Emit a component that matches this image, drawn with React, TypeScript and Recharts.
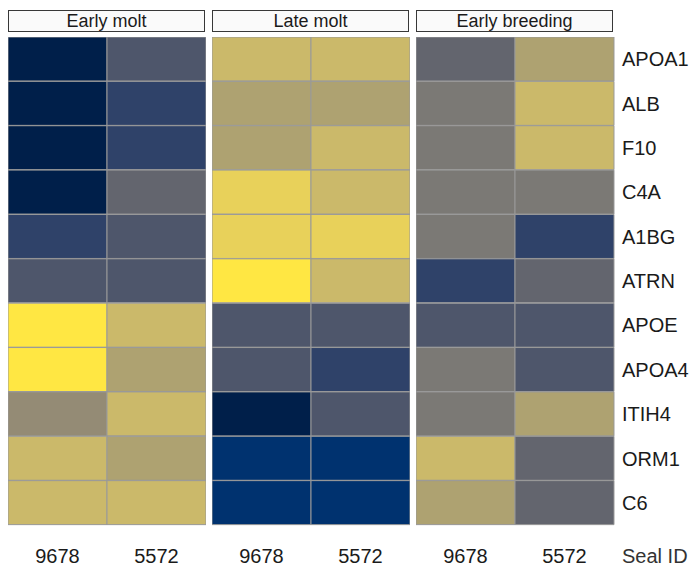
import React from 'react';
import { BarChart, Bar, Cell, XAxis, YAxis } from 'recharts';

const GENES = ['APOA1', 'ALB', 'F10', 'C4A', 'A1BG', 'ATRN', 'APOE', 'APOA4', 'ITIH4', 'ORM1', 'C6'];
const SEAL_IDS = ['9678', '5572'];
const STAGES = ['Early molt', 'Late molt', 'Early breeding'];

// scaled abundance (0 = low, 1 = high), one array per stage and seal
const earlyMolt9678 = [0.0, 0.0, 0.0, 0.0, 0.2, 0.3, 1.0, 1.0, 0.6, 0.8, 0.8];
const earlyMolt5572 = [0.3, 0.2, 0.2, 0.4, 0.3, 0.3, 0.8, 0.7, 0.8, 0.7, 0.8];
const lateMolt9678 = [0.8, 0.7, 0.7, 0.9, 0.9, 1.0, 0.3, 0.3, 0.0, 0.1, 0.1];
const lateMolt5572 = [0.8, 0.7, 0.8, 0.8, 0.9, 0.8, 0.3, 0.2, 0.3, 0.1, 0.1];
const earlyBreeding9678 = [0.4, 0.5, 0.5, 0.5, 0.5, 0.2, 0.3, 0.5, 0.5, 0.8, 0.7];
const earlyBreeding5572 = [0.7, 0.8, 0.8, 0.5, 0.2, 0.4, 0.3, 0.3, 0.7, 0.4, 0.4];

const STAGE_VALUES = [
  [earlyMolt9678, earlyMolt5572],
  [lateMolt9678, lateMolt5572],
  [earlyBreeding9678, earlyBreeding5572],
];

// cividis-like palette, evenly spaced over 0..1
const PALETTE = [
  '#001F4A', '#00326F', '#2F4269', '#4E566B', '#63656E', '#7B7975',
  '#948B75', '#AEA271', '#CBB96A', '#E8D15A', '#FFE743',
];

const hexToRgb = (h: string) => [1, 3, 5].map((i) => parseInt(h.slice(i, i + 2), 16));

const colorFor = (v: number) => {
  const t = Math.max(0, Math.min(1, v)) * (PALETTE.length - 1);
  const i = Math.min(Math.floor(t), PALETTE.length - 2);
  const f = t - i;
  const a = hexToRgb(PALETTE[i]);
  const b = hexToRgb(PALETTE[i + 1]);
  const c = a.map((x, k) => Math.round(x + (b[k] - x) * f));
  return `rgb(${c[0]},${c[1]},${c[2]})`;
};

const FONT = '"Liberation Sans", Arial, sans-serif';
const PANEL_LEFT = [8, 212, 416];
const PANEL_W = 198;
const LABEL_W = 77;

const Panel: React.FC<{ stage: number }> = ({ stage }) => {
  const [a, b] = STAGE_VALUES[stage];
  const rows = GENES.map((gene, i) => ({ gene, c0: 1, c1: 1, v0: a[i], v1: b[i] }));
  const last = stage === STAGES.length - 1;
  return (
    <div style={{ position: 'absolute', left: PANEL_LEFT[stage], top: 0 }}>
      <div
        style={{
          position: 'absolute', left: 0, top: 10, width: PANEL_W - 3, height: 20,
          border: '1.5px solid #383838', background: '#FAFAFA', fontFamily: FONT,
          fontSize: 18, color: '#1A1A1A', display: 'flex', alignItems: 'center',
          justifyContent: 'center', lineHeight: '20px',
        }}
      >
        {STAGES[stage]}
      </div>
      <div style={{ position: 'absolute', left: 0, top: 37 }}>
        <BarChart
          width={PANEL_W + (last ? LABEL_W : 0)}
          height={531}
          data={rows}
          layout="vertical"
          barCategoryGap={0}
          barGap={0}
          margin={{ top: 0, right: 0, bottom: 0, left: 0 }}
        >
          <XAxis
            type="number"
            domain={[0, 2]}
            ticks={[0.5, 1.5]}
            tickFormatter={(t: number) => SEAL_IDS[Math.floor(t)]}
            axisLine={false}
            tickLine={false}
            tickMargin={18}
            height={43}
            tick={{ fill: '#1A1A1A', fontSize: 20, fontFamily: FONT }}
          />
          <YAxis
            type="category"
            dataKey="gene"
            orientation="right"
            hide={!last}
            width={LABEL_W}
            axisLine={false}
            tickLine={false}
            tick={{ fill: '#1A1A1A', fontSize: 20, fontFamily: FONT, textAnchor: 'start' }}
          />
          <Bar dataKey="c0" stackId="s" isAnimationActive={false}>
            {rows.map((r) => (
              <Cell key={r.gene} fill={colorFor(r.v0)} stroke="#999999" strokeWidth={1} />
            ))}
          </Bar>
          <Bar dataKey="c1" stackId="s" isAnimationActive={false}>
            {rows.map((r) => (
              <Cell key={r.gene} fill={colorFor(r.v1)} stroke="#999999" strokeWidth={1} />
            ))}
          </Bar>
        </BarChart>
      </div>
    </div>
  );
};

export default function App() {
  return (
    <div style={{ position: 'absolute', left: 0, top: 0, width: 693, height: 568, background: '#fff', overflow: 'hidden' }}>
      {STAGES.map((s, i) => (
        <Panel key={s} stage={i} />
      ))}
      <div
        style={{
          position: 'absolute', left: 622, top: 545, fontFamily: FONT, fontSize: 20,
          color: '#333333', whiteSpace: 'nowrap',
        }}
      >
        Seal ID
      </div>
    </div>
  );
}
